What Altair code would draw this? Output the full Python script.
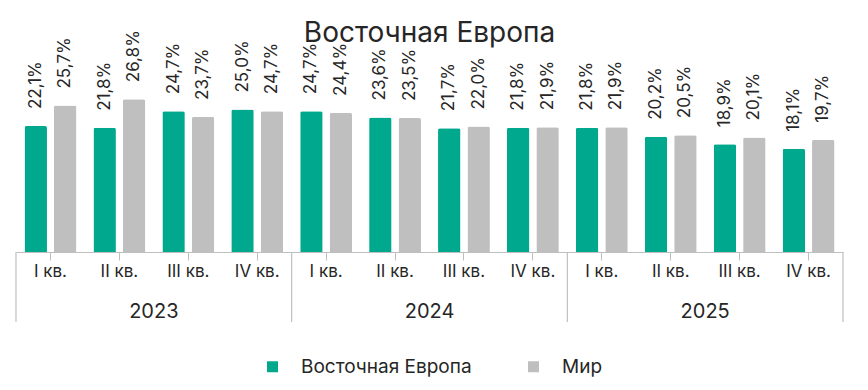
import altair as alt
import pandas as pd

years = ["2023", "2024", "2025"]
quarters = ["I кв.", "II кв.", "III кв.", "IV кв."]
series = ["Восточная Европа", "Мир"]
east = [22.1, 21.8, 24.7, 25.0, 24.7, 23.6, 21.7, 21.8, 21.8, 20.2, 18.9, 18.1]
world = [25.7, 26.8, 23.7, 24.7, 24.4, 23.5, 22.0, 21.9, 21.9, 20.5, 20.1, 19.7]
colors = ["#00A88E", "#BFBFBF"]

FONT = "Inter"
TXT = "#262626"
LINE = "#BFBFBF"

keys = [f"{y} {q}" for y in years for q in quarters]
rows = []
for i, k in enumerate(keys):
    rows.append({"key": k, "series": series[0], "value": east[i]})
    rows.append({"key": k, "series": series[1], "value": world[i]})
df = pd.DataFrame(rows)

W, H = 827, 228

xenc = alt.X("key:N", sort=keys, scale=alt.Scale(paddingInner=0, paddingOuter=0),
             axis=alt.Axis(title=None, labelExpr="substring(datum.label, 5)",
                           labelAngle=0, labelFontSize=17, labelFont=FONT, labelColor=TXT,
                           labelPadding=3, tickSize=8, tickColor=LINE, domainColor=LINE,
                           tickWidth=1, domainWidth=1, grid=False))
yenc = alt.Y("value:Q", scale=alt.Scale(domain=[0, 40], nice=False), axis=None)
xoff = alt.XOffset("series:N", sort=series,
                   scale=alt.Scale(paddingInner=0.237, paddingOuter=0.29))

base = alt.Chart(df)

bars = base.mark_bar(cornerRadiusTopLeft=2, cornerRadiusTopRight=2).encode(
    x=xenc, y=yenc, xOffset=xoff,
    color=alt.Color("series:N", sort=series,
                    scale=alt.Scale(domain=series, range=colors),
                    legend=alt.Legend(orient="none", legendX=247, legendY=333,
                                      direction="horizontal", title=None,
                                      symbolType="square", symbolSize=121,
                                      symbolStrokeWidth=0, labelFontSize=19,
                                      labelFont=FONT, labelColor=TXT, labelLimit=0,
                                      labelOffset=19, columnPadding=52)),
)

labels = base.transform_calculate(
    lab="replace(format(datum.value, '.1f'), '.', ',') + '%'"
).mark_text(angle=270, align="left", baseline="middle", dx=17,
            fontSize=17, font=FONT, color=TXT).encode(
    x=xenc, y=yenc, xOffset=xoff, text="lab:N"
)

sep_df = pd.DataFrame({"key": [f"{y} {quarters[0]}" for y in years]})
sep = alt.Chart(sep_df).mark_rule(color=LINE, strokeWidth=1.2).encode(
    x=alt.X("key:N", sort=keys, bandPosition=0),
    y=alt.value(H), y2=alt.value(H + 70))
sep_end = alt.Chart(pd.DataFrame({"key": [keys[-1]]})).mark_rule(color=LINE, strokeWidth=1.2).encode(
    x=alt.X("key:N", sort=keys, bandPosition=1),
    y=alt.value(H), y2=alt.value(H + 70))

yl_df = pd.DataFrame({"key": [f"{y} {quarters[1]}" for y in years], "year": years})
year_labels = alt.Chart(yl_df).mark_text(fontSize=20, font=FONT, color=TXT,
                                         baseline="middle", align="center").encode(
    x=alt.X("key:N", sort=keys, bandPosition=1),
    y=alt.value(H + 60), text="year:N")

chart = alt.layer(bars, labels, sep, sep_end, year_labels).properties(
    width=W, height=H,
    title=alt.TitleParams("Восточная Европа", fontSize=28, fontWeight="normal",
                          font=FONT, color=TXT, anchor="middle", offset=-24),
    autosize=alt.AutoSizeParams(type="none"),
    padding={"left": 8, "top": 16, "right": 17, "bottom": 125},
).configure_view(stroke=None)

chart.save("out.html", embed_options={"renderer": "svg", "actions": False})
